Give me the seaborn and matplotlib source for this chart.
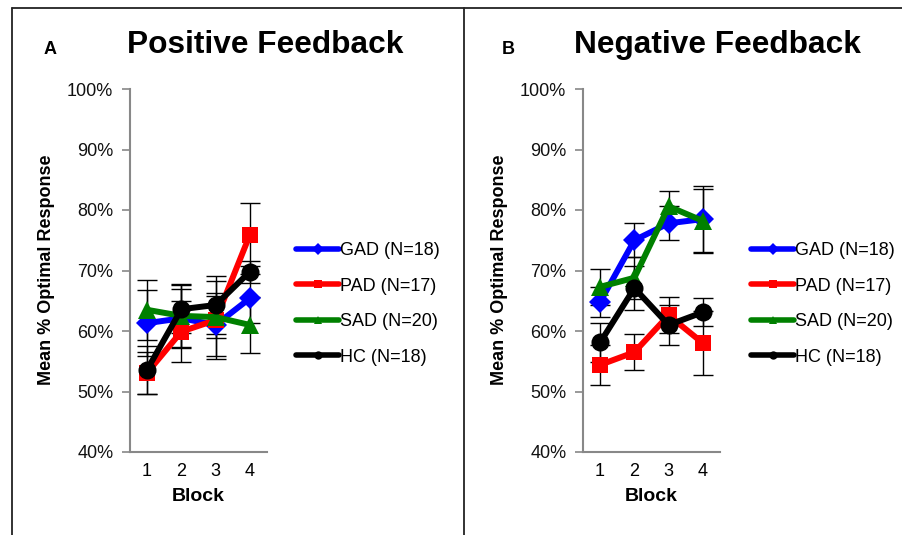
import matplotlib
matplotlib.use("Agg")
import matplotlib.pyplot as plt
import seaborn as sns
import pandas as pd
from matplotlib.lines import Line2D
from matplotlib.ticker import FuncFormatter, FixedLocator

# ---------------- data ----------------
blocks = [1, 2, 3, 4]
groups = ["GAD (N=18)", "PAD (N=17)", "SAD (N=20)", "HC (N=18)"]

pos_gad = [61.3, 62.1, 61.0, 65.4]
pos_pad = [53.1, 59.9, 61.8, 75.9]
pos_sad = [63.5, 62.5, 62.3, 61.0]
pos_hc = [53.6, 63.6, 64.3, 69.8]
pos_gad_err = [5.5, 4.8, 5.2, 4.0]
pos_pad_err = [3.5, 5.0, 6.5, 5.2]
pos_sad_err = [5.0, 5.3, 3.5, 4.7]
pos_hc_err = [4.0, 4.0, 4.8, 1.8]

neg_gad = [64.8, 75.0, 77.8, 78.5]
neg_pad = [54.4, 56.5, 62.6, 58.0]
neg_sad = [67.3, 68.8, 80.6, 78.2]
neg_hc = [58.1, 67.1, 61.0, 63.1]
neg_gad_err = [2.5, 2.8, 2.8, 5.5]
neg_pad_err = [3.3, 3.0, 3.0, 5.3]
neg_sad_err = [3.0, 3.5, 2.5, 5.3]
neg_hc_err = [3.3, 3.6, 3.3, 2.3]

y_ticks = [40, 50, 60, 70, 80, 90, 100]

colors = ["#0000FF", "#FF0000", "#008000", "#000000"]
markers = ["D", "s", "^", "o"]
msizes = [11, 12, 13, 13]

panels = [
    ("A", "Positive Feedback",
     [pos_gad, pos_pad, pos_sad, pos_hc],
     [pos_gad_err, pos_pad_err, pos_sad_err, pos_hc_err]),
    ("B", "Negative Feedback",
     [neg_gad, neg_pad, neg_sad, neg_hc],
     [neg_gad_err, neg_pad_err, neg_sad_err, neg_hc_err]),
]

# ---------------- style ----------------
sns.set_style("white")
plt.rcParams["font.family"] = ["Liberation Sans", "DejaVu Sans"]
plt.rcParams["text.color"] = "black"
plt.rcParams["axes.labelcolor"] = "black"
plt.rcParams["xtick.color"] = "black"
plt.rcParams["ytick.color"] = "black"

W, H = 903, 535
fig = plt.figure(figsize=(W / 100, H / 100), dpi=100)

def px_rect(x0, y_top, x1, y_bot):
    return [x0 / W, 1 - y_bot / H, (x1 - x0) / W, (y_bot - y_top) / H]

axes_rects = [px_rect(130, 89, 267, 452), px_rect(583, 89, 720, 452)]
legend_pos = [(296 / W, 1 - 242 / H), (751 / W, 1 - 242 / H)]
title_x = [265, 717]
letter_x = [50, 508]
ylabel_x = [47, 500]

for i, (letter, title, series, errs) in enumerate(panels):
    ax = fig.add_axes(axes_rects[i])
    rows = []
    for g, vals in zip(groups, series):
        for b, v in zip(blocks, vals):
            rows.append({"Block": b, "Group": g, "Value": v})
    df = pd.DataFrame(rows)

    # error bars first
    for k, (vals, e) in enumerate(zip(series, errs)):
        ax.errorbar(blocks, vals, yerr=e, fmt="none", ecolor="black",
                    elinewidth=1.0, capsize=7, capthick=1.0, zorder=2 + k * 0.1)

    sns.lineplot(data=df, x="Block", y="Value", hue="Group", style="Group",
                 palette=colors, markers=markers, dashes=False,
                 linewidth=4.3, markeredgewidth=0, ax=ax, legend=False,
                 zorder=3)
    for k, line in enumerate(ax.get_lines()[-4:]):
        line.set_markersize(msizes[k])
        line.set_zorder(3 + k * 0.1)

    ax.set_xlim(0.5, 4.5)
    ax.set_ylim(40, 100)
    ax.yaxis.set_major_locator(FixedLocator(y_ticks))
    ax.yaxis.set_major_formatter(FuncFormatter(lambda v, p: f"{int(v)}%"))
    ax.set_xticks(blocks)
    ax.set_xticks([0.5, 1.5, 2.5, 3.5, 4.5], minor=True)
    ax.tick_params(axis="x", which="major", length=0, pad=8, labelsize=13)
    ax.tick_params(axis="x", which="minor", length=5, width=1.2, color="#888888",
                   direction="out")
    ax.tick_params(axis="y", which="major", length=6, width=1.2, color="#888888",
                   labelcolor="#111111", direction="out", pad=6, labelsize=13, left=True)
    for s in ["top", "right"]:
        ax.spines[s].set_visible(False)
    for s in ["left", "bottom"]:
        ax.spines[s].set_color("#888888")
        ax.spines[s].set_linewidth(1.5)
    ax.set_xlabel("Block", fontsize=14, fontweight="bold", labelpad=6)
    ax.set_ylabel("")
    fig.text(ylabel_x[i] / W, 1 - 270 / H, "Mean % Optimal Response", rotation=90,
             ha="center", va="center", fontsize=13, fontweight="bold")

    fig.text(title_x[i] / W, 1 - 45 / H, title, ha="center", va="center",
             fontsize=22.8, fontweight="bold")
    fig.text(letter_x[i] / W, 1 - 50 / H, letter, ha="center", va="center",
             fontsize=13, fontweight="bold")

    handles = [Line2D([0], [0], color=c, lw=4, marker=m, markersize=6,
                      markeredgewidth=0) for c, m in zip(colors, markers)]
    fig.legend(handles, groups, loc="upper left", bbox_to_anchor=legend_pos[i],
               frameon=False, fontsize=13, handlelength=2.4, handletextpad=0.05,
               labelspacing=1.03, borderpad=0, borderaxespad=0)

# frame lines
for xs, ys in [([12 / W, 12 / W], [0, 1 - 8 / H]),
               ([12 / W, 1], [1 - 8 / H, 1 - 8 / H]),
               ([464 / W, 464 / W], [0, 1 - 8 / H])]:
    fig.add_artist(Line2D(xs, ys, color="#222222", lw=1.3, transform=fig.transFigure))

fig.savefig("out.png", dpi=100)
